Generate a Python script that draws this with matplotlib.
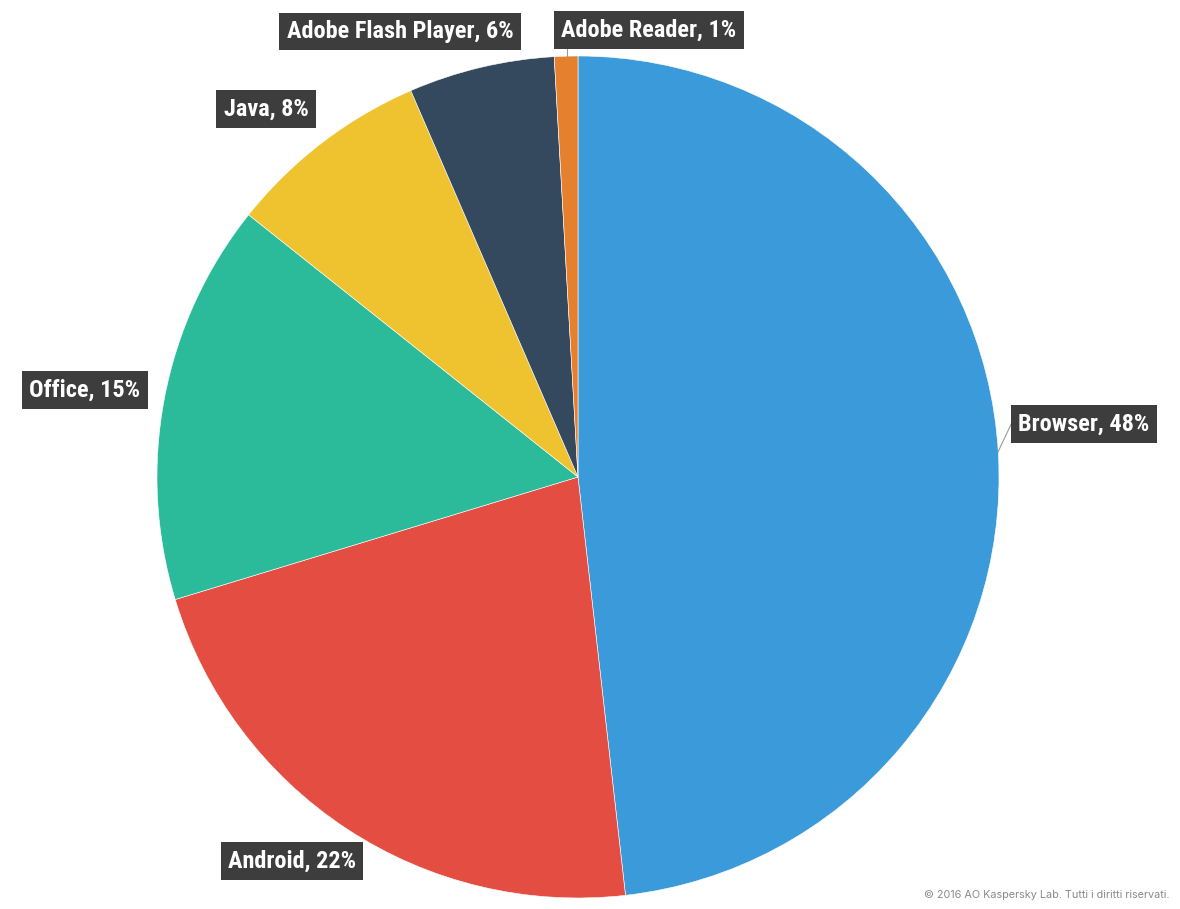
import matplotlib
matplotlib.use("Agg")
import matplotlib.pyplot as plt
from matplotlib import font_manager

categories = ["Browser", "Android", "Office", "Java", "Adobe Flash Player", "Adobe Reader"]
shares = [48.2, 22.1, 15.4, 7.8, 5.6, 0.9]
colors = ["#3b9ad9", "#e44e42", "#2bbb9b", "#efc32f", "#34495e", "#e5802f"]

# layout (pixel coordinates, y measured from top)
W, H = 1180, 909
CX, CY, R = 578, 477, 421
label_centers = [(1084, 424), (292, 861), (85, 390), (266, 109), (400, 31.5), (649, 30)]

avail = {f.name for f in font_manager.fontManager.ttflist}
fam = [f for f in ["Liberation Sans Narrow", "Roboto Condensed", "DejaVu Sans Condensed", "DejaVu Sans"] if f in avail]

fig = plt.figure(figsize=(W / 100, H / 100), dpi=100)
ax = fig.add_axes([0, 0, 1, 1])
ax.pie(shares, colors=colors, startangle=90, counterclock=False,
       center=(CX, H - CY), radius=R,
       wedgeprops=dict(edgecolor="white", linewidth=0.4))
ax.set_xlim(0, W)
ax.set_ylim(0, H)
ax.set_aspect("equal")
ax.axis("off")

for name, v, (px, py) in zip(categories, shares, label_centers):
    ax.text(px, H - py, f"{name}, {round(v)}%", ha="center", va="center",
            color="white", fontsize=17.5, fontweight="bold", family=fam,
            bbox=dict(boxstyle="square,pad=0.3", fc="#3d3d3d", ec="none"))

# leader lines
ax.plot([998, 1014, 1018], [H - 452, H - 418, H - 418], color="#9a9a9a", lw=0.8)
ax.plot([567, 567], [H - 56, H - 46], color="#9a9a9a", lw=0.8)

ax.text(1169, H - 895, "© 2016 AO Kaspersky Lab. Tutti i diritti riservati.",
        ha="right", va="center", color="#8a8a8a", fontsize=7.8, family=["Inter", "DejaVu Sans"])

fig.savefig("out.png", dpi=100)
